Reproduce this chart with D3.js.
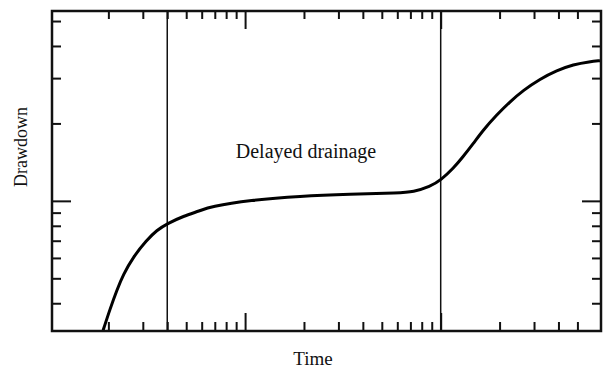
<!DOCTYPE html>
<html>
<head>
<meta charset="utf-8">
<script src="https://cdnjs.cloudflare.com/ajax/libs/d3/7.8.5/d3.min.js"></script>
<style>
  body { margin: 0; background: #fff; }
  text { font-family: "Liberation Serif", "Times New Roman", serif; fill: #111; }
</style>
</head>
<body>
<div id="content"></div>
<script>
// Drawdown vs time type curve (delayed drainage), log-log
var w = 604,
    h = 370;

var margin = {left: 52, top: 11, right: 3, bottom: 39};

// curve
var timeVals = [1.88, 2.04, 2.21, 2.38, 2.68, 3.14, 3.53, 4.02, 4.83, 5.88, 6.62, 10.6, 19.1, 34.4, 61.9, 72.2, 88.2, 101, 116, 130, 147, 165, 193, 226, 264, 322, 392, 476, 580, 652];
var drawdownVals = [3.14, 3.80, 4.50, 5.16, 6.06, 7.03, 7.69, 8.17, 8.72, 9.15, 9.49, 10.06, 10.43, 10.62, 10.74, 10.84, 11.34, 12.11, 13.37, 14.83, 16.72, 18.84, 21.56, 24.28, 26.87, 29.75, 32.12, 33.88, 34.80, 35.05];

// vertical markers bounding the delayed drainage stage
var markers = [4, 100];

// ticks (unlabelled)
var xMinorTicks = [2, 3, 4, 5, 6, 7, 8, 9, 20, 30, 40, 50, 60, 70, 80, 90, 200, 300, 400, 500];
var xMajorTicks = [10, 100];
var yMinorTicks = [4, 5, 6, 7, 8, 9, 20, 30, 40, 50];
var yMajorTicks = [10];

var xLabel = "Time",
    yLabel = "Drawdown",
    stageLabel = "Delayed drainage";

var x = d3.scaleLog()
    .domain([1.03, 660])
    .range([margin.left, w - margin.right]);

var y = d3.scaleLog()
    .domain([3.12, 54.7])
    .range([h - margin.bottom, margin.top]);

var svg = d3.select("#content")
    .append("svg")
    .attr("width", w)
    .attr("height", h);

svg.append("clipPath")
    .attr("id", "plot-clip")
    .append("rect")
    .attr("x", margin.left)
    .attr("y", margin.top)
    .attr("width", w - margin.left - margin.right)
    .attr("height", h - margin.top - margin.bottom);

// ticks pointing inward on all four sides
function drawAxis(axisFn, scale, values, size, transform) {
    var g = svg.append("g")
        .attr("transform", transform)
        .call(axisFn(scale).tickValues(values).tickSize(size).tickFormat(""));
    g.select(".domain").remove();
    g.selectAll(".tick line")
        .attr("stroke", "#111")
        .attr("stroke-width", 2);
}

var bottomY = h - margin.bottom,
    rightX = w - margin.right;

drawAxis(d3.axisBottom, x, xMinorTicks, -9, "translate(0," + bottomY + ")");
drawAxis(d3.axisBottom, x, xMajorTicks, -18, "translate(0," + bottomY + ")");
drawAxis(d3.axisTop, x, xMinorTicks, -8, "translate(0," + margin.top + ")");
drawAxis(d3.axisTop, x, xMajorTicks, -18, "translate(0," + margin.top + ")");
drawAxis(d3.axisLeft, y, yMinorTicks, -9, "translate(" + margin.left + ",0)");
drawAxis(d3.axisLeft, y, yMajorTicks, -19, "translate(" + margin.left + ",0)");
drawAxis(d3.axisRight, y, yMinorTicks, -9, "translate(" + rightX + ",0)");
drawAxis(d3.axisRight, y, yMajorTicks, -19, "translate(" + rightX + ",0)");

// marker lines
svg.selectAll("line.marker")
    .data(markers)
    .enter()
    .append("line")
    .attr("class", "marker")
    .attr("x1", function(d) { return x(d); })
    .attr("x2", function(d) { return x(d); })
    .attr("y1", margin.top)
    .attr("y2", bottomY)
    .attr("stroke", "#111")
    .attr("stroke-width", 1.5);

var data = timeVals.map(function(t, i) { return [t, drawdownVals[i]]; });

var line = d3.line()
    .x(function(d) { return x(d[0]); })
    .y(function(d) { return y(d[1]); })
    .curve(d3.curveBasis);

svg.append("path")
    .datum(data)
    .attr("clip-path", "url(#plot-clip)")
    .attr("d", line)
    .attr("fill", "none")
    .attr("stroke", "#000")
    .attr("stroke-width", 3);

// frame
svg.append("rect")
    .attr("x", margin.left)
    .attr("y", margin.top)
    .attr("width", w - margin.left - margin.right)
    .attr("height", h - margin.top - margin.bottom)
    .attr("fill", "none")
    .attr("stroke", "#111")
    .attr("stroke-width", 2.5);

svg.append("text")
    .attr("x", 306)
    .attr("y", 158)
    .attr("text-anchor", "middle")
    .style("font-size", "20px")
    .text(stageLabel);

svg.append("text")
    .attr("x", 313)
    .attr("y", 365)
    .attr("text-anchor", "middle")
    .style("font-size", "19px")
    .text(xLabel);

svg.append("text")
    .attr("transform", "translate(27,147) rotate(-90)")
    .attr("text-anchor", "middle")
    .style("font-size", "18px")
    .text(yLabel);
</script>
</body>
</html>
